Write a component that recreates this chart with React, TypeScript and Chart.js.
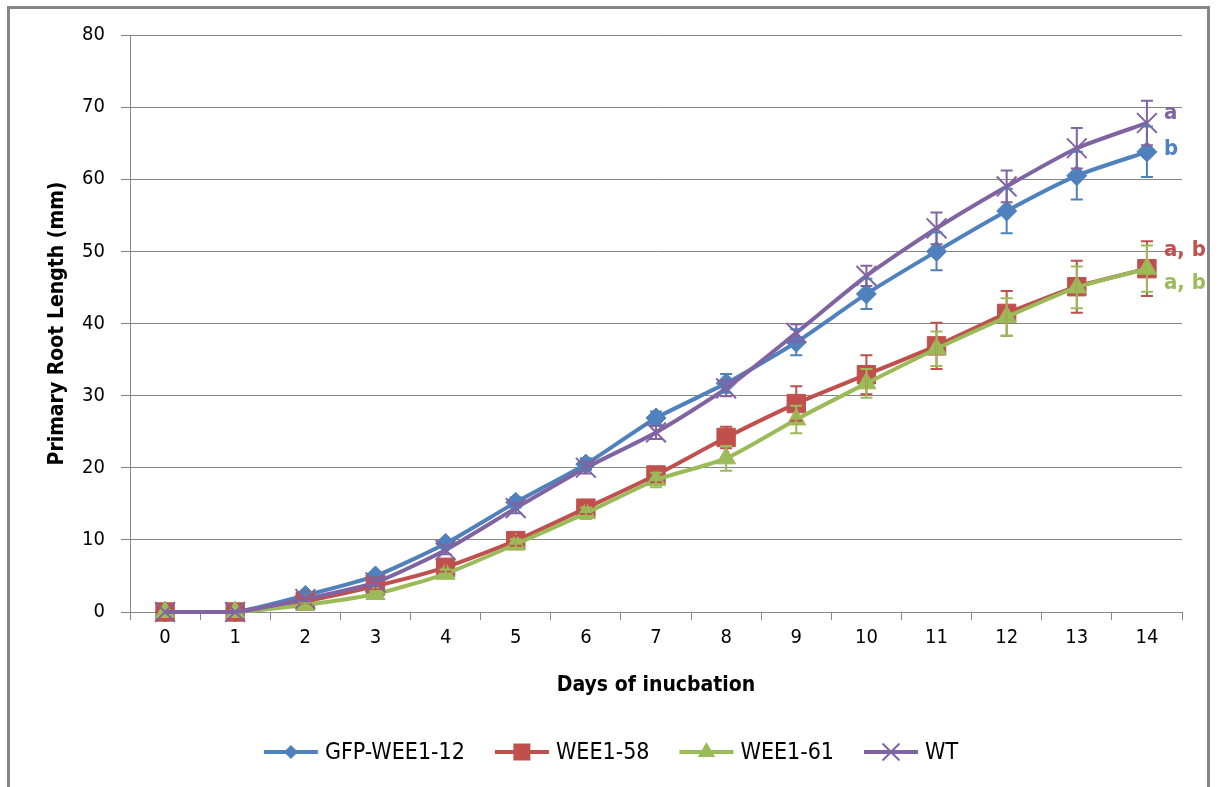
import React, { useEffect, useRef } from "react";
import { Chart, registerables } from "chart.js";

Chart.register(...registerables);

// ---- data ----
const days = ["0", "1", "2", "3", "4", "5", "6", "7", "8", "9", "10", "11", "12", "13", "14"];
const seriesNames = ["GFP-WEE1-12", "WEE1-58", "WEE1-61", "WT"];
const gfpWee1_12 = [0, 0, 2.3, 5.0, 9.5, 15.2, 20.5, 26.9, 31.7, 37.4, 44.1, 50.0, 55.6, 60.5, 63.8];
const wee1_58 = [0, 0, 1.5, 3.6, 6.2, 9.9, 14.4, 19.0, 24.2, 28.9, 32.9, 36.9, 41.4, 45.1, 47.6];
const wee1_61 = [0, 0, 1.0, 2.5, 5.3, 9.4, 13.7, 18.3, 21.3, 26.7, 31.7, 36.5, 40.9, 45.0, 47.6];
const wt = [0, 0, 1.8, 4.1, 8.6, 14.4, 20.0, 24.9, 31.0, 38.7, 46.6, 53.2, 59.0, 64.3, 67.8];
const errGfp = [0, 0, 0.3, 0.5, 0.6, 0.7, 0.8, 0.9, 1.3, 1.8, 2.1, 2.6, 3.1, 3.3, 3.5];
const err58 = [0, 0, 0.3, 0.5, 0.6, 0.7, 0.8, 1.0, 1.5, 2.4, 2.7, 3.2, 3.1, 3.6, 3.8];
const err61 = [0, 0, 0.3, 0.4, 0.6, 0.7, 0.8, 1.0, 1.7, 1.9, 2.0, 2.4, 2.6, 2.9, 3.2];
const errWt = [0, 0, 0.3, 0.5, 0.6, 0.7, 0.8, 0.9, 1.1, 1.2, 1.4, 2.2, 2.2, 2.8, 3.1];
const significance = ["b", "a, b", "a, b", "a"];
const yTicks = [0, 10, 20, 30, 40, 50, 60, 70, 80];

// ---- styles ----
const FF = "'DejaVu Sans Condensed', 'DejaVu Sans', sans-serif";
const COLORS = ["#4F81BD", "#C0504D", "#9BBB59", "#8064A2"];
const STYLES = ["rectRot", "rect", "triangle", "crossRot"];
const RADII = [10, 13, 11, 14];
const LEGEND_RADII = [7, 12, 10, 12];
const BORDERS = [1, 1, 1, 2];
const SIG_DY = [-3, -18, 15, -10];
const GRID = "#868686";

const seriesValues = [gfpWee1_12, wee1_58, wee1_61, wt];
const seriesErrors = [errGfp, err58, err61, errWt];

const framePlugin = {
  id: "frame",
  beforeDraw(chart: any) {
    const ctx = chart.ctx;
    ctx.save();
    ctx.fillStyle = "#ffffff";
    ctx.fillRect(0, 0, chart.width, chart.height);
    ctx.strokeStyle = "#878787";
    ctx.lineWidth = 3;
    ctx.strokeRect(8.5, 7.5, 1200, 800);
    ctx.restore();
  },
};

const errorBarPlugin = {
  id: "errorBars",
  afterDatasetsDraw(chart: any) {
    const ctx = chart.ctx;
    const y = chart.scales.y;
    ctx.save();
    seriesValues.forEach((vals, i) => {
      const meta = chart.getDatasetMeta(i);
      ctx.strokeStyle = COLORS[i];
      ctx.lineWidth = 2;
      vals.forEach((v, j) => {
        const e = seriesErrors[i][j];
        if (!e) return;
        const px = meta.data[j].x;
        const top = y.getPixelForValue(v + e);
        const bot = y.getPixelForValue(v - e);
        ctx.beginPath();
        ctx.moveTo(px, top);
        ctx.lineTo(px, bot);
        ctx.moveTo(px - 6, top);
        ctx.lineTo(px + 6, top);
        ctx.moveTo(px - 6, bot);
        ctx.lineTo(px + 6, bot);
        ctx.stroke();
      });
    });
    ctx.restore();
  },
};

const annotationPlugin = {
  id: "sigLetters",
  afterDatasetsDraw(chart: any) {
    const ctx = chart.ctx;
    ctx.save();
    ctx.font = `bold 22px ${FF}`;
    ctx.textAlign = "left";
    ctx.textBaseline = "middle";
    significance.forEach((txt, i) => {
      const meta = chart.getDatasetMeta(i);
      const pt = meta.data[meta.data.length - 1];
      ctx.fillStyle = COLORS[i];
      ctx.fillText(txt, pt.x + 17, pt.y + SIG_DY[i]);
    });
    ctx.restore();
  },
};

function drawMarker(ctx: CanvasRenderingContext2D, style: string, x: number, y: number, r: number, color: string, bw: number) {
  ctx.save();
  ctx.fillStyle = color;
  ctx.strokeStyle = color;
  ctx.lineWidth = bw;
  ctx.beginPath();
  if (style === "rectRot") {
    ctx.moveTo(x - r, y);
    ctx.lineTo(x, y - r);
    ctx.lineTo(x + r, y);
    ctx.lineTo(x, y + r);
    ctx.closePath();
    ctx.fill();
  } else if (style === "rect") {
    const s = r * Math.SQRT1_2;
    ctx.rect(x - s, y - s, 2 * s, 2 * s);
    ctx.fill();
  } else if (style === "triangle") {
    ctx.moveTo(x, y - r);
    ctx.lineTo(x + r * 0.866, y + r * 0.5);
    ctx.lineTo(x - r * 0.866, y + r * 0.5);
    ctx.closePath();
    ctx.fill();
  } else {
    const s = r * Math.SQRT1_2;
    ctx.moveTo(x - s, y - s);
    ctx.lineTo(x + s, y + s);
    ctx.moveTo(x - s, y + s);
    ctx.lineTo(x + s, y - s);
    ctx.stroke();
  }
  ctx.restore();
}

const legendPlugin = {
  id: "customLegend",
  afterDraw(chart: any) {
    const ctx = chart.ctx;
    ctx.save();
    ctx.font = `23px ${FF}`;
    const lineLen = 54;
    const gapText = 7;
    const gapItem = 30;
    const widths = seriesNames.map((n) => ctx.measureText(n).width);
    const total = widths.reduce((a, w) => a + lineLen + gapText + w, 0) + gapItem * (seriesNames.length - 1);
    let x = 611 - total / 2;
    const yy = 752;
    seriesNames.forEach((name, i) => {
      ctx.strokeStyle = COLORS[i];
      ctx.lineWidth = 4;
      ctx.beginPath();
      ctx.moveTo(x, yy);
      ctx.lineTo(x + lineLen, yy);
      ctx.stroke();
      drawMarker(ctx, STYLES[i], x + lineLen / 2, yy, LEGEND_RADII[i], COLORS[i], BORDERS[i]);
      ctx.fillStyle = "#000";
      ctx.textAlign = "left";
      ctx.textBaseline = "middle";
      ctx.fillText(name, x + lineLen + gapText, yy + 1);
      x += lineLen + gapText + widths[i] + gapItem;
    });
    ctx.restore();
  },
};

export default function App() {
  const ref = useRef<HTMLCanvasElement | null>(null);

  useEffect(() => {
    if (!ref.current) return;
    const datasets = seriesNames.map((name, i) => ({
      label: name,
      data: seriesValues[i],
      borderColor: COLORS[i],
      backgroundColor: COLORS[i],
      borderWidth: 4,
      pointStyle: STYLES[i] as any,
      pointRadius: RADII[i],
      pointBorderWidth: BORDERS[i],
      pointBackgroundColor: COLORS[i],
      pointBorderColor: COLORS[i],
      tension: 0.2,
      clip: false as any,
      order: 4 - i,
    }));
    const chart = new Chart(ref.current, {
      type: "line",
      data: { labels: days, datasets },
      options: {
        responsive: false,
        animation: false,
        events: [],
        layout: { padding: { left: 45, top: 35, right: 41, bottom: 89 } },
        plugins: { legend: { display: false }, tooltip: { enabled: false } },
        scales: {
          x: {
            type: "category",
            offset: true,
            grid: { offset: true, drawOnChartArea: false, drawTicks: true, tickLength: 8, color: GRID },
            border: { color: GRID, width: 1 },
            ticks: { font: { size: 20, family: FF }, color: "#000", padding: 6, maxRotation: 0 },
            title: {
              display: true,
              text: "Days of inucbation",
              font: { size: 21, weight: "bold", family: FF },
              color: "#000",
              padding: 0,
            },
            afterFit: (s: any) => {
              s.height = 86;
            },
          },
          y: {
            min: 0,
            max: 80,
            afterBuildTicks: (s: any) => {
              s.ticks = yTicks.map((v) => ({ value: v }));
            },
            grid: { color: GRID, tickLength: 9, drawTicks: true },
            border: { color: GRID, width: 1 },
            ticks: { font: { size: 20, family: FF }, color: "#000", padding: 16 },
            title: {
              display: true,
              text: "Primary Root Length (mm)",
              font: { size: 21, weight: "bold", family: FF },
              color: "#000",
              padding: 0,
            },
            afterFit: (s: any) => {
              s.width = 85;
            },
          },
        },
      },
      plugins: [framePlugin, errorBarPlugin, annotationPlugin, legendPlugin],
    });
    return () => chart.destroy();
  }, []);

  return (
    <div style={{ position: "absolute", left: 0, top: 0, width: 1223, height: 787 }}>
      <canvas ref={ref} width={1223} height={787} style={{ display: "block" }} />
    </div>
  );
}
